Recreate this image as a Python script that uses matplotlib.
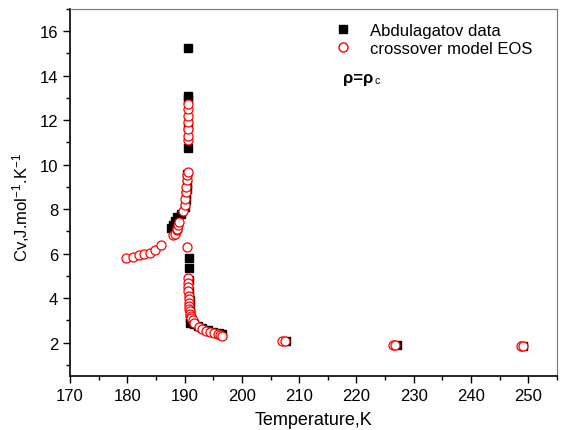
import matplotlib
matplotlib.use('Agg')
import matplotlib.pyplot as plt
from matplotlib.ticker import MultipleLocator
from matplotlib.lines import Line2D

plt.rcParams['font.family'] = ['Liberation Sans', 'DejaVu Sans']
plt.rcParams['mathtext.default'] = 'regular'

# --- данные ---
# Abdulagatov data (чёрные квадраты)
black_T = [190.66, 190.66, 190.66, 190.66, 190.6, 190.5, 190.45, 190.4, 190.3, 190.2,
           190.0, 189.3, 188.75, 188.3, 187.9, 187.6,
           190.7, 190.7, 190.8, 190.85, 190.9, 190.95, 191.0, 191.0, 190.9,
           191.6, 192.3, 193.0, 194.0, 195.0, 196.0, 196.5,
           207.7, 227.0, 249.1]
black_Cv = [15.25, 13.1, 12.95, 11.7, 10.75, 9.6, 9.15, 8.9, 8.7, 8.4,
            8.1, 7.8, 7.66, 7.45, 7.3, 7.15,
            5.8, 5.36, 4.8, 4.3, 3.9, 3.6, 3.35, 3.1, 2.9,
            2.85, 2.75, 2.65, 2.55, 2.5, 2.42, 2.38,
            2.08, 1.9, 1.85]

# crossover model EOS (красные кружки)
red_T = [179.8, 181.0, 182.0, 183.0, 184.0, 184.9, 185.8,
         187.9, 188.3, 188.6, 188.75, 188.9, 189.1, 189.7, 190.0, 190.1, 190.2, 190.3, 190.4, 190.5, 190.55,
         190.6, 190.6, 190.6, 190.6, 190.6, 190.6, 190.6,
         190.5, 190.6, 190.62, 190.65, 190.68, 190.7, 190.72, 190.75, 190.8, 190.85,
         190.9, 191.0, 191.1, 191.2, 191.4, 191.7,
         192.6, 193.0, 193.7, 194.5, 195.2, 195.8, 196.2, 196.5,
         207.0, 207.5, 226.4, 226.8, 248.7, 249.0]
red_Cv = [5.8, 5.87, 5.92, 5.98, 6.04, 6.16, 6.37,
          6.85, 6.9, 7.05, 7.12, 7.27, 7.42, 7.9, 8.2, 8.47, 8.77, 9.0, 9.3, 9.52, 9.67,
          11.1, 11.3, 11.6, 11.9, 12.2, 12.5, 12.75,
          6.32, 4.9, 4.7, 4.5, 4.3, 4.1, 3.95, 3.8, 3.65, 3.5,
          3.4, 3.3, 3.2, 3.1, 3.0, 2.9,
          2.72, 2.62, 2.52, 2.5, 2.44, 2.4, 2.36, 2.32,
          2.06, 2.07, 1.9, 1.9, 1.84, 1.84]

fig = plt.figure(figsize=(5.61, 4.31), dpi=100)
ax = fig.add_axes([70 / 561, 1 - 377 / 431, 487 / 561, 367 / 431])

ax.plot(black_T, black_Cv, 's', color='black', markersize=5.5, linestyle='none')
ax.plot(red_T, red_Cv, 'o', markerfacecolor='white', markeredgecolor='red',
        markeredgewidth=0.9, markersize=6.5, linestyle='none')

ax.set_xlim(170, 255)
ax.set_ylim(0.5, 17)
ax.xaxis.set_major_locator(MultipleLocator(10))
ax.xaxis.set_minor_locator(MultipleLocator(5))
ax.yaxis.set_major_locator(MultipleLocator(2))
ax.yaxis.set_minor_locator(MultipleLocator(1))
ax.tick_params(which='both', direction='out', top=False, right=False, labelsize=12)
ax.tick_params(which='major', length=5, width=1)
ax.tick_params(which='minor', length=3, width=1)
for side in ['left', 'bottom']:
    ax.spines[side].set_linewidth(1.2)
for side in ['top', 'right']:
    ax.spines[side].set_color('#777777')

ax.set_xlabel('Temperature,K', fontsize=13, labelpad=6)
ax.set_ylabel('Cv,J.mol$^{-1}$.K$^{-1}$', fontsize=12)
ax.yaxis.set_label_coords(-0.078, 0.463)

# легенда
handles = [
    Line2D([], [], marker='s', color='black', linestyle='none', markersize=6),
    Line2D([], [], marker='o', markerfacecolor='white', markeredgecolor='red',
           linestyle='none', markersize=6.5),
]
ax.legend(handles, ['Abdulagatov data', 'crossover model EOS'], loc='upper left',
          bbox_to_anchor=(0.5435, 0.962), frameon=False, fontsize=12,
          borderaxespad=0, borderpad=0, handlelength=1.0,
          handletextpad=1.12, labelspacing=0.2)
t = ax.text(0.561, 0.812, 'ρ=ρ', transform=ax.transAxes, fontsize=12,
            fontweight='bold', va='center', ha='left')
ax.annotate('c', xy=(1.05, 0.0), xycoords=t, fontsize=7.5, va='bottom', ha='left')

fig.savefig('out.png', dpi=100)
